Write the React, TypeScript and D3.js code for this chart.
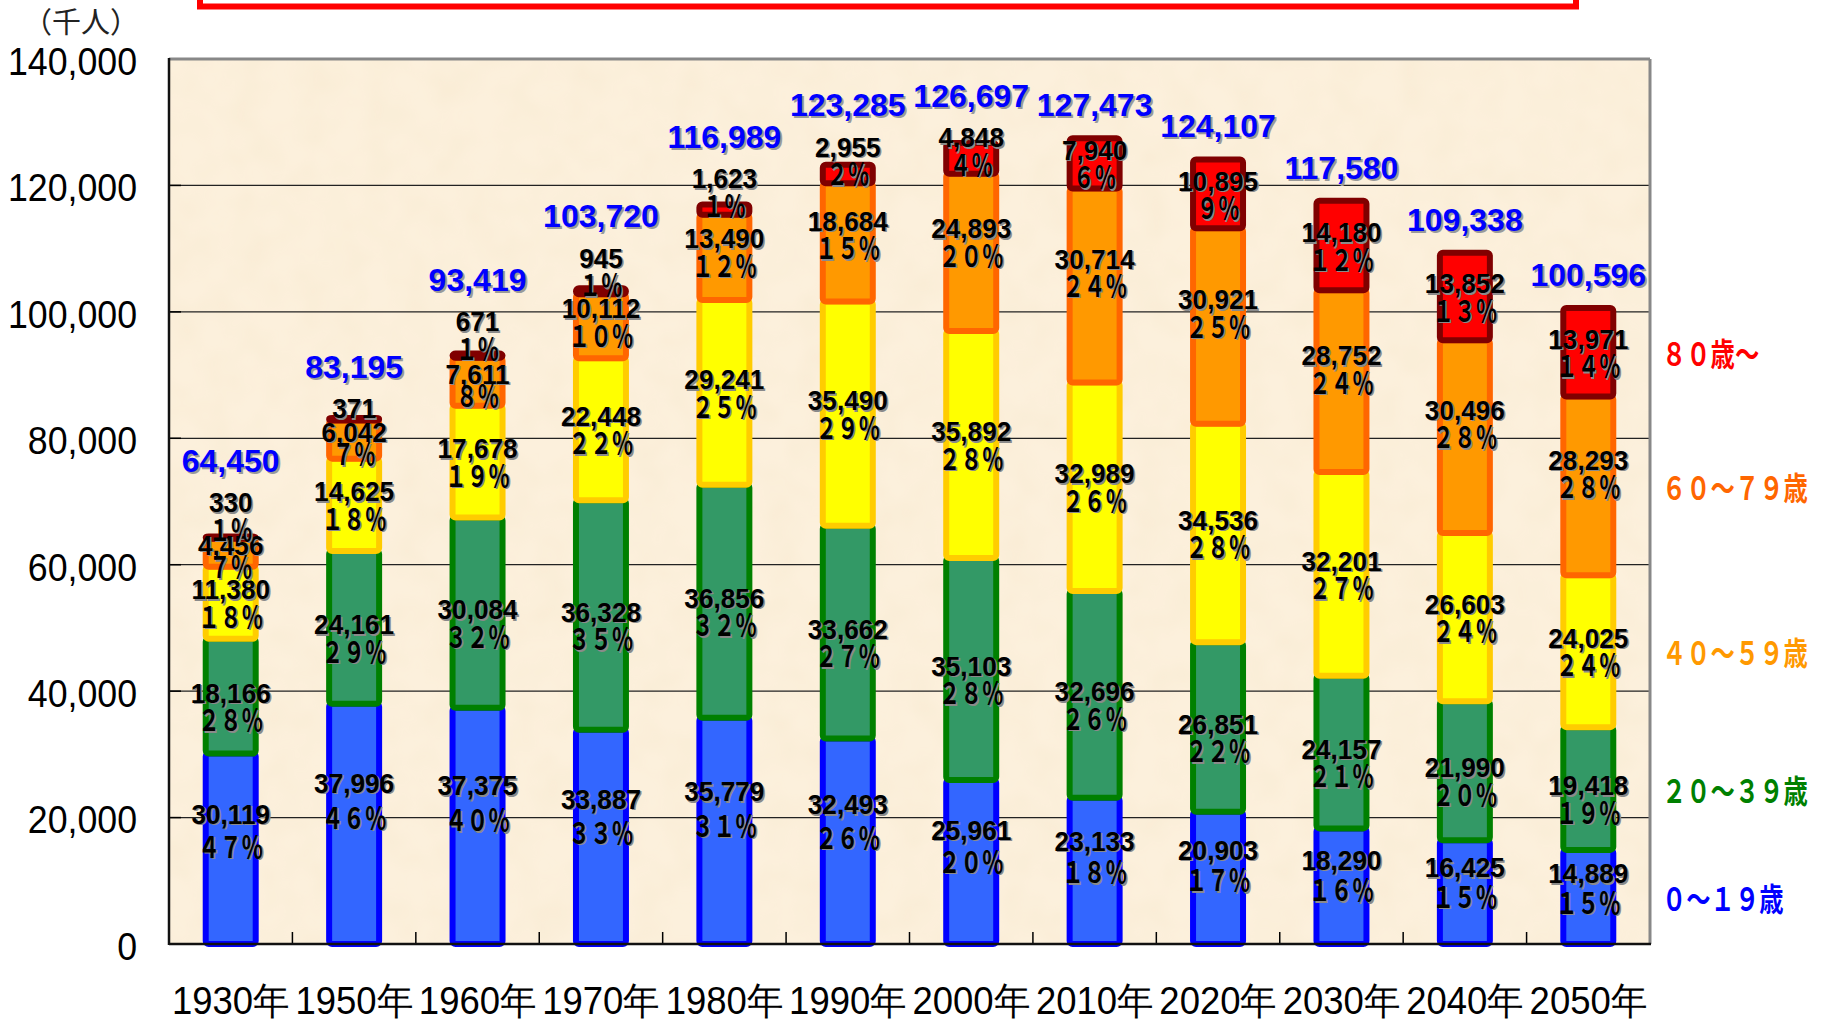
import { scaleBand, scaleLinear, stack, format } from 'd3'

const years = ['1930年', '1950年', '1960年', '1970年', '1980年', '1990年', '2000年', '2010年', '2020年', '2030年', '2040年', '2050年']
const age0to19 = [30119, 37996, 37375, 33887, 35779, 32493, 25961, 23133, 20903, 18290, 16425, 14889]
const age20to39 = [18166, 24161, 30084, 36328, 36856, 33662, 35103, 32696, 26851, 24157, 21990, 19418]
const age40to59 = [11380, 14625, 17678, 22448, 29241, 35490, 35892, 32989, 34536, 32201, 26603, 24025]
const age60to79 = [4456, 6042, 7611, 10112, 13490, 18684, 24893, 30714, 30921, 28752, 30496, 28293]
const age80plus = [330, 371, 671, 945, 1623, 2955, 4848, 7940, 10895, 14180, 13852, 13971]
const totals = [64450, 83195, 93419, 103720, 116989, 123285, 126697, 127473, 124107, 117580, 109338, 100596]
const pct0to19 = [47, 46, 40, 33, 31, 26, 20, 18, 17, 16, 15, 15]
const pct20to39 = [28, 29, 32, 35, 32, 27, 28, 26, 22, 21, 20, 19]
const pct40to59 = [18, 18, 19, 22, 25, 29, 28, 26, 28, 27, 24, 24]
const pct60to79 = [7, 7, 8, 10, 12, 15, 20, 24, 25, 24, 28, 28]
const pct80plus: (number | null)[] = [1, null, 1, 1, 1, 2, 4, 6, 9, 12, 13, 14]
const groupNames = ['０～１９歳', '２０～３９歳', '４０～５９歳', '６０～７９歳', '８０歳～']
const yTicks = [0, 20000, 40000, 60000, 80000, 100000, 120000, 140000]

const keys = ['a0', 'a20', 'a40', 'a60', 'a80']
const series = [age0to19, age20to39, age40to59, age60to79, age80plus]
const pcts = [pct0to19, pct20to39, pct40to59, pct60to79, pct80plus]
const fills = ['#3366FF', '#339966', '#FFFF00', '#FF9900', '#FF0000']
const strokes = ['#0000FF', '#008000', '#FFCC00', '#FF6600', '#800000']
const legendColors = ['#0000FF', '#008000', '#FF9900', '#FF6600', '#FF0000']

// label nudges per age group (h = segment height in px)
const labelShift = [
	(h: number) => -0.1 * h,
	() => 10,
	() => 0,
	(h: number) => (h < 55 ? 3 : -0.07 * h),
	() => 0,
]
const lineGap = [
	(h: number) => 23 + 0.04 * h,
	() => 25,
	() => 25,
	(h: number) => (h < 55 ? 20 : 25),
	() => 25,
]

const W = 1824
const H = 1021
const left = 169
const right = 1650
const top = 59
const bottom = 944

const fmt = format(',')
const fullWidth = (n: number) =>
	String(n).replace(/[0-9]/g, (c) => String.fromCharCode(c.charCodeAt(0) + 0xfee0)) + '％'

const rows = years.map((year, i) => {
	const r: Record<string, any> = { year }
	keys.forEach((k, j) => (r[k] = series[j][i]))
	return r
})

export default function App() {
	const x = scaleBand().domain(years).range([left, right]).paddingInner(0.595).paddingOuter(0.2975)
	const y = scaleLinear().domain([0, 140000]).range([bottom, top])
	const stacked = stack<Record<string, any>>().keys(keys)(rows)
	const step = x.step()

	const labelFont = "'Liberation Sans', Arial, sans-serif"
	const jpFont = "'Noto Sans CJK JP', sans-serif"

	const segHeight = (j: number, i: number) => y(stacked[j][i][0]) - y(stacked[j][i][1])

	// where the two-line label of a segment sits; the small top segments push it upward
	const blockCenter = (j: number, i: number) => {
		const [y0, y1] = stacked[j][i]
		const segBottom = y(y0)
		const segCenter = (y(y0) + y(y1)) / 2
		if (j === keys.length - 1) return Math.min(segCenter, segBottom - 23)
		return segCenter + labelShift[j](segHeight(j, i))
	}

	return (
		<div style={{ position: 'absolute', left: 0, top: 0 }}>
			<svg width={W} height={H} viewBox={`0 0 ${W} ${H}`} style={{ display: 'block', background: '#fff' }}>
				<defs>
					<filter id='paper' x='0' y='0' width='100%' height='100%'>
						<feTurbulence type='fractalNoise' baseFrequency='0.03' numOctaves={2} seed={4} />
						<feColorMatrix
							type='matrix'
							values='0 0 0 0 0.85  0 0 0 0 0.7  0 0 0 0 0.45  0 0 0 0.25 -0.08'
						/>
						<feComposite in2='SourceGraphic' operator='in' />
					</filter>
				</defs>

				{/* red frame at the top, mostly cut off */}
				<rect x={200} y={-40} width={1376} height={46.5} fill='none' stroke='#FF0000' strokeWidth={6} />

				{/* plot background */}
				<rect x={left} y={top} width={right - left} height={bottom - top} fill='#FCF0DC' />
				<rect x={left} y={top} width={right - left} height={bottom - top} fill='#FCF0DC' filter='url(#paper)' />

				{/* grid lines */}
				{yTicks.slice(1, -1).map((t) => (
					<line key={t} x1={left} x2={right} y1={y(t)} y2={y(t)} stroke='#222' strokeWidth={1.2} />
				))}
				{yTicks.map((t) => (
					<line key={'yt' + t} x1={left} x2={left + 12} y1={y(t)} y2={y(t)} stroke='#000' strokeWidth={1.5} />
				))}
				{years.slice(1).map((yr) => (
					<line
						key={'xt' + yr}
						x1={x(yr)! - (step - x.bandwidth()) / 2}
						x2={x(yr)! - (step - x.bandwidth()) / 2}
						y1={bottom}
						y2={bottom - 12}
						stroke='#000'
						strokeWidth={1.5}
					/>
				))}

				{/* stacked bars */}
				{stacked.map((s, j) =>
					s.map((d, i) => (
						<rect
							key={j + '-' + i}
							x={x(years[i])}
							y={y(d[1])}
							width={x.bandwidth()}
							height={y(d[0]) - y(d[1])}
							rx={3}
							fill={fills[j]}
							stroke={strokes[j]}
							strokeWidth={6}
						/>
					))
				)}

				{/* axes frame */}
				<line x1={left} x2={right} y1={top} y2={top} stroke='#888' strokeWidth={3} />
				<line x1={right} x2={right} y1={top} y2={bottom} stroke='#888' strokeWidth={3} />
				<line x1={left} x2={left} y1={top - 1} y2={bottom + 1} stroke='#111' strokeWidth={2.5} />
				<line x1={left} x2={right + 1} y1={bottom} y2={bottom} stroke='#111' strokeWidth={2.5} />

				{/* segment labels */}
				{stacked.map((s, j) =>
					s.map((d, i) => {
						const cx = x(years[i])! + x.bandwidth() / 2
						const c = blockCenter(j, i)
						const p = pcts[j][i]
						const gap = lineGap[j](segHeight(j, i)) / 2
						const vy = p == null ? c + 11.5 : c - gap
						const py = c + gap
						return (
							<g key={'l' + j + '-' + i} fontWeight='bold'>
								{[1.5, 0].map((o) => (
									<g key={o} fill={o ? '#8a8a8a' : '#000'} transform={`translate(${o},${o})`}>
										<text
											transform={`translate(${cx},${vy}) scale(0.97,1)`}
											textAnchor='middle'
											dominantBaseline='central'
											fontFamily={labelFont}
											fontSize={27}
										>
											{fmt(series[j][i])}
										</text>
										{p != null && (
											<text
												transform={`translate(${cx},${py}) scale(0.72,1)`}
												textAnchor='middle'
												dominantBaseline='central'
												fontFamily={jpFont}
												fontSize={30}
											>
												{fullWidth(p)}
											</text>
										)}
									</g>
								))}
							</g>
						)
					})
				)}

				{/* totals */}
				{totals.map((t, i) => {
					const cx = x(years[i])! + x.bandwidth() / 2
					const barTop = y(stacked[keys.length - 1][i][1])
					const j = keys.length - 1
					const hasPct = pcts[j][i] != null
					const lblTop = blockCenter(j, i) - (hasPct ? 25 : 0) - 12
					const cy = Math.min(barTop - 33, lblTop - 18)
					return (
						<g key={'t' + i} fontFamily={labelFont} fontWeight='bold' fontSize={32} textAnchor='middle'>
							<text x={cx + 2} y={cy + 2} dominantBaseline='central' fill='#9a9a9a'>
								{fmt(t)}
							</text>
							<text x={cx} y={cy} dominantBaseline='central' fill='#0000FF'>
								{fmt(t)}
							</text>
						</g>
					)
				})}

				{/* y axis labels */}
				{yTicks.map((t) => (
					<text
						key={'yl' + t}
						transform={`translate(137,${y(t) + 3}) scale(0.94,1)`}
						textAnchor='end'
						dominantBaseline='central'
						fontFamily={labelFont}
						fontSize={38}
						fill='#000'
					>
						{fmt(t)}
					</text>
				))}
				<text
					x={81}
					y={20}
					textAnchor='middle'
					dominantBaseline='central'
					fontFamily={jpFont}
					fontSize={29}
					fill='#222'
				>
					（千人）
				</text>

				{/* x axis labels */}
				{years.map((yr) => (
					<text
						key={'xl' + yr}
						transform={`translate(${x(yr)! + x.bandwidth() / 2},1014) scale(0.96,1)`}
						textAnchor='middle'
						fontFamily={labelFont}
						fontSize={38}
						fill='#000'
					>
						{yr}
					</text>
				))}

				{/* age group labels beside the last bar */}
				{groupNames.map((g, j) => {
					const last = stacked[j][years.length - 1]
					const cy = (y(last[0]) + y(last[1])) / 2
					return (
						<text
							key={g}
							transform={`translate(1662,${cy}) scale(0.76,1)`}
							dominantBaseline='central'
							fontFamily={jpFont}
							fontWeight='bold'
							fontSize={32}
							fill={legendColors[j]}
						>
							{g}
						</text>
					)
				})}
			</svg>
		</div>
	)
}
